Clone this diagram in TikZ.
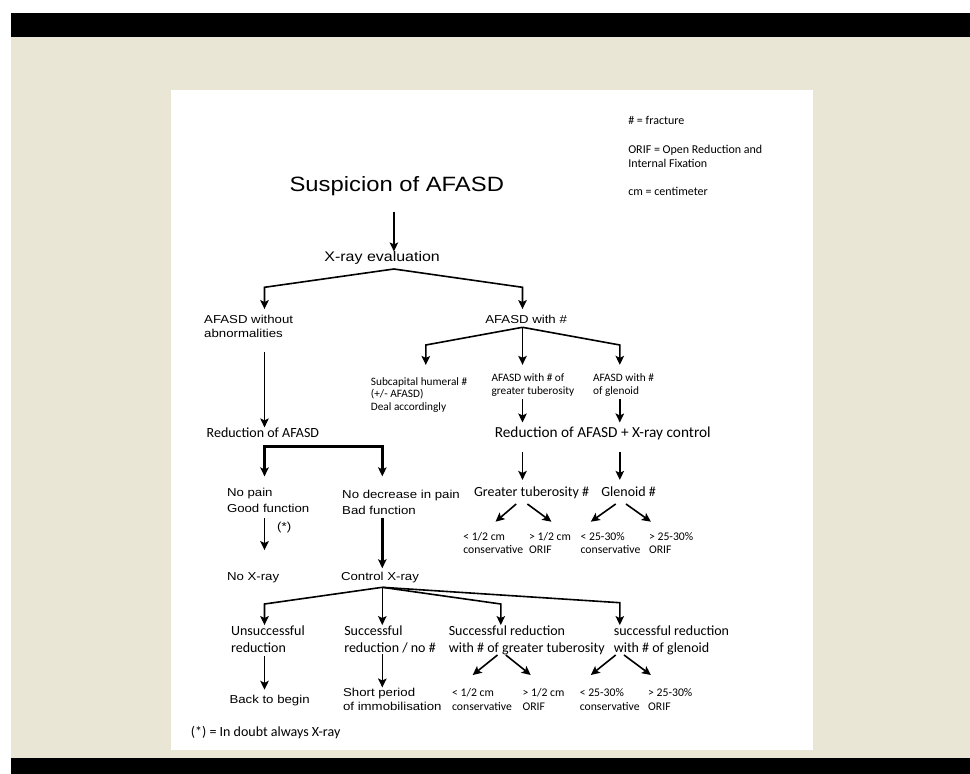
\documentclass[tikz,border=0pt]{standalone}
\usepackage{fontspec}
\usetikzlibrary{arrows.meta}
\newfontfamily\arialfont{Liberation Sans}[FakeStretch=1.15]
\newfontfamily\calfont{Carlito}
\definecolor{panelbeige}{HTML}{E9E6D6}
\begin{document}
\begin{tikzpicture}[x=1pt,y=-1pt,
  >={Stealth[length=9pt,width=8.5pt,inset=2pt]},
  lbl/.style={anchor=base west,inner sep=0pt,align=left},
  ar/.style={lbl,font=\arialfont\fontsize{11.5}{14}\selectfont},
  cal/.style={lbl,font=\calfont\fontsize{14}{17}\selectfont},
  calsmall/.style={lbl,font=\calfont\fontsize{11.7}{13.8}\selectfont},
  arr/.style={->,line width=1.6pt},
  thickarr/.style={line width=2.8pt},
  thinarr/.style={->,line width=1pt}]
\useasboundingbox (0,0) rectangle (970,774);
\fill[white] (0,0) rectangle (970,774);
\fill[black] (11,13) rectangle (970,37);
\fill[panelbeige] (11,37) rectangle (970,758);
\fill[black] (11,758) rectangle (970,774);
\fill[white] (171,90) rectangle (813,750);

\node[lbl,font=\calfont\fontsize{12}{14}\selectfont] (legfx) at (628.1,124.3) {\# = fracture};
\node[lbl,font=\calfont\fontsize{12}{14}\selectfont] (legorif) at (628.1,167.3) {ORIF = Open Reduction and\\Internal Fixation};
\node[lbl,font=\calfont\fontsize{12}{14}\selectfont] (legcm) at (628.1,195) {cm = centimeter};

\node[lbl,font=\arialfont\fontsize{20.7}{24}\selectfont] (title) at (289.4,191) {Suspicion of AFASD};
\node[lbl,font=\arialfont\fontsize{13.9}{16}\selectfont] (xray) at (324.2,261.7) {X-ray evaluation};

\node[ar] (without) at (204,337.3) {AFASD without\\abnormalities};
\node[ar] (withfx) at (485.1,323.3) {AFASD with \#};

\node[lbl,font=\calfont\fontsize{11.3}{12.5}\selectfont] (subcap) at (370.7,410) {Subcapital humeral \#\\(+/- AFASD)\\Deal accordingly};
\node[lbl,font=\calfont\fontsize{11.3}{12.4}\selectfont] (withgt) at (491.3,394.1) {AFASD with \# of\\greater tuberosity};
\node[lbl,font=\calfont\fontsize{11.3}{12.4}\selectfont] (withgl) at (592.9,394.1) {AFASD with \#\\of glenoid};

\node[cal] (redleft) at (206.5,437.3) {Reduction of AFASD};
\node[lbl,font=\calfont\fontsize{15.3}{18}\selectfont] (redright) at (494.6,437.3) {Reduction of AFASD + X-ray control};

\node[ar,font=\arialfont\fontsize{11.5}{15.5}\selectfont] (nopain) at (226.8,512.2) {No pain\\Good function};
\node[ar,font=\arialfont\fontsize{11.5}{16.5}\selectfont] (nodecr) at (342,514.8) {No decrease in pain\\Bad function};
\node[cal] (gtfx) at (473.9,496.7) {Greater tuberosity \#};
\node[cal] (glfx) at (601.2,496.7) {Glenoid \#};
\node[ar] (star) at (277,530) {(*)};

\node[calsmall] (gtlo) at (463.1,553.8) {< 1/2 cm\\conservative};
\node[calsmall] (gthi) at (529,553.8) {> 1/2 cm\\ORIF};
\node[calsmall] (gllo) at (580.4,553.8) {< 25-30\%\\conservative};
\node[calsmall] (glhi) at (648.9,553.8) {> 25-30\%\\ORIF};

\node[ar] (noxray) at (226.8,580) {No X-ray};
\node[ar] (control) at (340.8,580) {Control X-ray};

\node[cal] (unsucc) at (230.9,652) {Unsuccessful\\reduction};
\node[cal] (succ) at (344.1,652) {Successful\\reduction / no \#};
\node[cal] (succgt) at (448.6,652) {Successful reduction\\with \# of greater tuberosity};
\node[cal] (succgl) at (613.6,652) {successful reduction\\with \# of glenoid};

\node[ar] (back) at (229.3,703.3) {Back to begin};
\node[ar,font=\arialfont\fontsize{11.5}{14.7}\selectfont] (short) at (342.9,710.7) {Short period\\of immobilisation};
\node[calsmall] (bgtlo) at (451.9,710.5) {< 1/2 cm\\conservative};
\node[calsmall] (bgthi) at (522.4,710.5) {> 1/2 cm\\ORIF};
\node[calsmall] (bgllo) at (579.6,710.5) {< 25-30\%\\conservative};
\node[calsmall] (bglhi) at (648,710.5) {> 25-30\%\\ORIF};

\node[cal] (foot) at (190.7,736.7) {(*) = In doubt always X-ray};

\coordinate (fx) at (393.9,269);
\coordinate (fxL) at (264.5,287.3);
\coordinate (fxR) at (522.5,287.3);
\coordinate (fw) at (522.5,327.3);
\coordinate (fwL) at (425.8,345);
\coordinate (fwR) at (619.8,345);
\coordinate (fr) at (264.5,446.7);
\coordinate (frR) at (382.3,446.7);
\coordinate (fc) at (382.3,587.3);
\coordinate (fcL) at (264.5,604);
\coordinate (fcM) at (500.8,604);
\coordinate (fcR) at (619.8,602.7);
\coordinate (dgt) at (521.8,504);
\coordinate (dgl) at (620.8,504);
\coordinate (dsgt) at (501.6,655);
\coordinate (dsgl) at (619.8,655);

\draw[arr,shorten <=16.3pt] (title.south -| fx) -- (fx |- xray.north);
\draw[arr,shorten >=5.7pt] (fx) -- (fxL) -- (fxL |- without.north);
\draw[arr,shorten >=5.7pt] (fx) -- (fxR) -- (fxR |- withfx.north);

\draw[arr,shorten >=12pt] (fw) -- (fwL) -- (fwL |- subcap.north);
\draw[arr,shorten >=8.8pt] (fw) -- (fw |- withgt.north);
\draw[arr,shorten >=8.8pt] (fw) -- (fwR) -- (fwR |- withgl.north);

\draw[thinarr,shorten <=14.4pt] (fxL |- without.south) -- (fxL |- redleft.north);
\draw[arr,shorten <=3pt,shorten >=4pt] (fw |- withgt.south) -- (fw |- redright.north);
\draw[arr,shorten <=3pt,shorten >=4pt] (fwR |- withgl.south) -- (fwR |- redright.north);

\draw[thickarr,<->,shorten <=11.8pt,shorten >=13.4pt] (fr |- nopain.north) -- (fr) -- (frR) -- (frR |- nodecr.north);
\draw[arr,shorten <=12.3pt,shorten >=6.9pt] (fw |- redright.south) -- (fw |- gtfx.north);
\draw[arr,shorten <=12.3pt,shorten >=6.9pt] (fwR |- redright.south) -- (fwR |- glfx.north);

\draw[arr] (dgt) ++(-5.6,0) -- ++(-20.7,17.7);
\draw[arr] (dgt) ++(5.6,0) -- ++(24,17.7);
\draw[arr] (dgl) ++(-5.1,0) -- ++(-24.9,17.7);
\draw[arr] (dgl) ++(5.2,0) -- ++(24.9,17.7);

\draw[arr,shorten <=5.6pt,shorten >=21.8pt] (fr |- nopain.south) -- (fr |- noxray.north);
\draw[thickarr,->,shorten <=3.3pt,shorten >=3.2pt] (frR |- nodecr.south) -- (frR |- control.north);

\draw[arr] (fc) -- (fcL) -- (fcL |- unsucc.north);
\draw[arr] (fc) -- (fc |- succ.north);
\draw[arr] (fc) -- (fcM) -- (fcM |- succgt.north);
\draw[arr] (fc) -- (fcR) -- (fcR |- succgl.north);

\draw[arr,shorten <=4pt,shorten >=5pt] (fcL |- unsucc.south) -- (fcL |- back.north);
\draw[arr,shorten <=1.2pt] (fc |- succ.south) -- (fc |- short.north);

\draw[arr] (dsgt) ++(-4.1,0) -- ++(-24.8,20);
\draw[arr] (dsgt) ++(4.2,0) -- ++(24.9,20);
\draw[arr] (dsgl) ++(-4.1,0) -- ++(-24.9,20);
\draw[arr] (dsgl) ++(4.2,0) -- ++(26.9,20);
\end{tikzpicture}
\end{document}
